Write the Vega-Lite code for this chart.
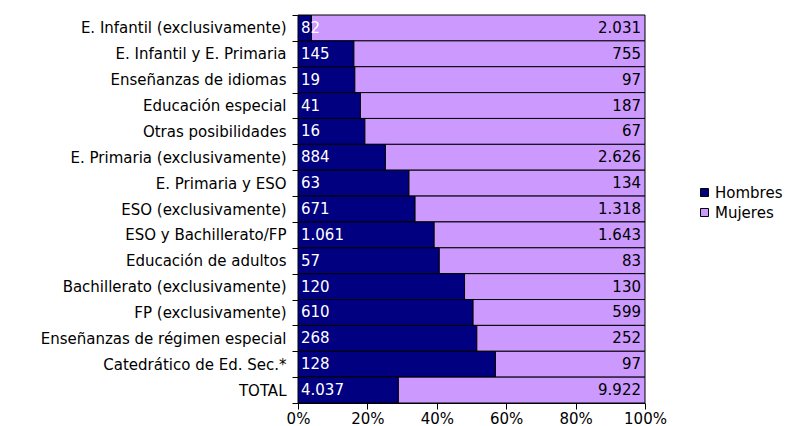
{
  "$schema": "https://vega.github.io/schema/vega-lite/v6.json",
  "width": 347,
  "height": 388,
  "autosize": {"type": "none"},
  "padding": {"left": 298, "top": 15, "right": 147, "bottom": 23},
  "config": {
    "view": {"stroke": null},
    "font": "DejaVu Sans",
    "locale": {"number": {"decimal": ",", "thousands": ".", "grouping": [3], "currency": ["", " €"]}},
    "axis": {"labelFont": "DejaVu Sans", "labelFontSize": 15, "labelColor": "#000", "domainColor": "#000", "tickColor": "#000", "grid": false, "title": null}
  },
  "data": {
    "values": [
      {"cat": "E. Infantil (exclusivamente)", "sexo": "Hombres", "n": 82},
      {"cat": "E. Infantil (exclusivamente)", "sexo": "Mujeres", "n": 2031},
      {"cat": "E. Infantil y E. Primaria", "sexo": "Hombres", "n": 145},
      {"cat": "E. Infantil y E. Primaria", "sexo": "Mujeres", "n": 755},
      {"cat": "Enseñanzas de idiomas", "sexo": "Hombres", "n": 19},
      {"cat": "Enseñanzas de idiomas", "sexo": "Mujeres", "n": 97},
      {"cat": "Educación especial", "sexo": "Hombres", "n": 41},
      {"cat": "Educación especial", "sexo": "Mujeres", "n": 187},
      {"cat": "Otras posibilidades", "sexo": "Hombres", "n": 16},
      {"cat": "Otras posibilidades", "sexo": "Mujeres", "n": 67},
      {"cat": "E. Primaria (exclusivamente)", "sexo": "Hombres", "n": 884},
      {"cat": "E. Primaria (exclusivamente)", "sexo": "Mujeres", "n": 2626},
      {"cat": "E. Primaria y ESO", "sexo": "Hombres", "n": 63},
      {"cat": "E. Primaria y ESO", "sexo": "Mujeres", "n": 134},
      {"cat": "ESO (exclusivamente)", "sexo": "Hombres", "n": 671},
      {"cat": "ESO (exclusivamente)", "sexo": "Mujeres", "n": 1318},
      {"cat": "ESO y Bachillerato/FP", "sexo": "Hombres", "n": 1061},
      {"cat": "ESO y Bachillerato/FP", "sexo": "Mujeres", "n": 1643},
      {"cat": "Educación de adultos", "sexo": "Hombres", "n": 57},
      {"cat": "Educación de adultos", "sexo": "Mujeres", "n": 83},
      {"cat": "Bachillerato (exclusivamente)", "sexo": "Hombres", "n": 120},
      {"cat": "Bachillerato (exclusivamente)", "sexo": "Mujeres", "n": 130},
      {"cat": "FP (exclusivamente)", "sexo": "Hombres", "n": 610},
      {"cat": "FP (exclusivamente)", "sexo": "Mujeres", "n": 599},
      {"cat": "Enseñanzas de régimen especial", "sexo": "Hombres", "n": 268},
      {"cat": "Enseñanzas de régimen especial", "sexo": "Mujeres", "n": 252},
      {"cat": "Catedrático de Ed. Sec.*", "sexo": "Hombres", "n": 128},
      {"cat": "Catedrático de Ed. Sec.*", "sexo": "Mujeres", "n": 97},
      {"cat": "TOTAL", "sexo": "Hombres", "n": 4037},
      {"cat": "TOTAL", "sexo": "Mujeres", "n": 9922}
    ]
  },
  "encoding": {
    "y": {
      "field": "cat", "type": "nominal", "sort": null,
      "scale": {"paddingInner": 0, "paddingOuter": 0},
      "axis": {"tickBand": "extent", "tickSize": 6, "labelPadding": 6, "labelLimit": 400}
    }
  },
  "layer": [
    {
      "mark": {"type": "bar", "stroke": "#000", "strokeWidth": 1},
      "encoding": {
        "x": {
          "field": "n", "type": "quantitative", "stack": "normalize",
          "scale": {"domain": [0, 1], "nice": false},
          "axis": {"format": ".0%", "values": [0, 0.2, 0.4, 0.6, 0.8, 1], "tickSize": 6, "labelPadding": 2, "labelFlush": false}
        },
        "color": {
          "field": "sexo", "type": "nominal",
          "scale": {"domain": ["Hombres", "Mujeres"], "range": ["#000080", "#CC99FF"]},
          "legend": {
            "title": null, "orient": "none", "legendX": 399, "legendY": 170,
            "symbolType": "square", "symbolSize": 64, "symbolStrokeColor": "#000", "symbolStrokeWidth": 1,
            "labelFontSize": 15, "labelFont": "DejaVu Sans", "labelColor": "#000", "rowPadding": 4, "labelOffset": 3
          }
        },
        "order": {"field": "sexo", "sort": "ascending"}
      }
    },
    {
      "transform": [{"filter": "datum.sexo === 'Hombres'"}],
      "mark": {"type": "text", "align": "left", "dx": 3, "fontSize": 15, "color": "#fff", "font": "DejaVu Sans"},
      "encoding": {
        "x": {"datum": 0},
        "text": {"field": "n", "type": "quantitative", "format": ",d"}
      }
    },
    {
      "transform": [{"filter": "datum.sexo === 'Mujeres'"}],
      "mark": {"type": "text", "align": "right", "dx": -4, "fontSize": 15, "color": "#000", "font": "DejaVu Sans"},
      "encoding": {
        "x": {"datum": 1},
        "text": {"field": "n", "type": "quantitative", "format": ",d"}
      }
    }
  ]
}
